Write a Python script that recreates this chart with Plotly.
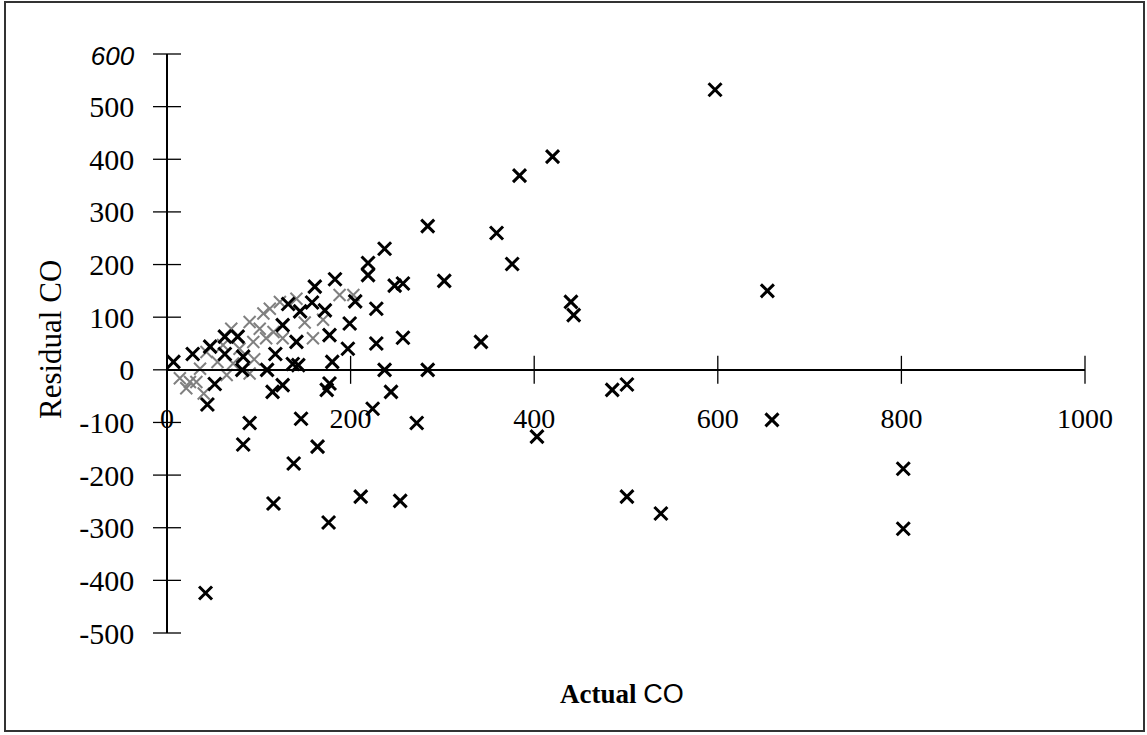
import plotly.graph_objects as go

# ---- data ----
actual_co = [597, 420, 384, 284, 359, 376, 237, 219, 219, 257, 248, 302, 440, 443, 654, 342,
             161, 183, 205, 172, 228, 132, 158, 145, 126, 199, 177, 141, 197, 228, 257, 118,
             77, 63, 47, 28, 7, 63, 83,
             82, 109, 137, 143, 180, 237, 284,
             52, 115, 126, 174, 177, 244, 44, 224,
             90, 146, 272, 83, 164, 138, 116, 176, 211, 254, 42,
             485, 501, 403, 659, 501, 538, 802, 802]
residual_co = [532, 405, 369, 273, 260, 201, 230, 203, 180, 164, 160, 169, 129, 104, 150, 53,
               158, 172, 130, 113, 116, 125, 128, 111, 85, 88, 66, 53, 40, 50, 61, 30,
               63, 63, 44, 30, 15, 30, 25,
               0, 0, 11, 9, 15, 0, 0,
               -27, -42, -29, -38, -26, -42, -66, -74,
               -101, -93, -101, -142, -146, -178, -254, -290, -241, -249, -424,
               -38, -28, -127, -95, -241, -273, -188, -302]

# faint, overlapping points in the dense cluster near the origin
faint_actual = [14, 21, 36, 32, 43, 61, 70, 90, 105, 94, 101, 116, 112, 123, 141, 188, 203,
                90, 65, 25, 72, 108, 79, 159, 126, 150, 170, 95, 55, 40]
faint_residual = [-16, -35, 2, -23, 34, 47, 78, 91, 107, 53, 78, 72, 116, 129, 135, 142, 142,
                  -7, -10, -23, 12, 60, 40, 60, 60, 90, 95, 20, 15, -45]

x_ticks = [0, 200, 400, 600, 800, 1000]
y_ticks = [-500, -400, -300, -200, -100, 0, 100, 200, 300, 400, 500, 600]
y_ticktext = ["-500", "-400", "-300", "-200", "-100", "0", "100", "200", "300", "400", "500",
              "<span style=\"font-family:Liberation Sans;font-style:italic;font-size:26px\">600</span>"]

X_RANGE = [0, 1000]
Y_RANGE = [-500, 600]

W, H = 1147, 735
ML, MR, MT, MB = 167, 62, 54, 102

fig = go.Figure()

fig.add_trace(go.Scatter(
    x=faint_actual, y=faint_residual, mode="markers",
    marker=dict(symbol="x-thin", size=12, color="#808080",
                line=dict(color="#808080", width=2)),
    showlegend=False, hoverinfo="skip"))

fig.add_trace(go.Scatter(
    x=actual_co, y=residual_co, mode="markers",
    marker=dict(symbol="x-thin", size=13, color="black",
                line=dict(color="black", width=3)),
    showlegend=False))

# crossing tick marks on both axes
fig.add_trace(go.Scatter(
    x=x_ticks, y=[0] * len(x_ticks), mode="markers", cliponaxis=False,
    marker=dict(symbol="line-ns", size=20, color="black",
                line=dict(color="black", width=1.3)),
    showlegend=False, hoverinfo="skip"))
fig.add_trace(go.Scatter(
    x=[0] * len(y_ticks), y=y_ticks, mode="markers", cliponaxis=False,
    marker=dict(symbol="line-ew", size=20, color="black",
                line=dict(color="black", width=1.3)),
    showlegend=False, hoverinfo="skip"))

x_pos = (0 - Y_RANGE[0]) / (Y_RANGE[1] - Y_RANGE[0])

fig.update_layout(
    width=W, height=H,
    margin=dict(l=ML, r=MR, t=MT, b=MB),
    paper_bgcolor="white", plot_bgcolor="white",
    showlegend=False,
    xaxis=dict(range=X_RANGE, anchor="free", position=x_pos, showline=True,
               linecolor="black", linewidth=1.5, ticks="outside", ticklen=9,
               tickcolor="rgba(0,0,0,0)", tickvals=x_ticks,
               ticktext=[str(v) for v in x_ticks],
               tickfont=dict(family="Liberation Serif", size=28, color="black"),
               ticklabelstandoff=15, showgrid=False, zeroline=False),
    yaxis=dict(range=Y_RANGE, anchor="free", position=0, showline=True,
               linecolor="black", linewidth=1.5, ticks="outside", ticklen=10,
               tickcolor="rgba(0,0,0,0)", tickvals=y_ticks,
               ticktext=y_ticktext,
               tickfont=dict(family="Liberation Serif", size=30, color="black"),
               ticklabelstandoff=16, showgrid=False, zeroline=False),
)

pw = W - ML - MR
ph = H - MT - MB


def px_x(p):
    return (p - ML) / pw


def px_y(p):
    return (H - MB - p) / ph


fig.add_annotation(text="Residual CO", xref="paper", yref="paper",
                   x=px_x(50), y=px_y(340), xanchor="center", yanchor="middle",
                   textangle=-90, showarrow=False,
                   font=dict(family="Liberation Serif", size=31, color="black"))
fig.add_annotation(text="<b>Actual</b> <span style=\"font-family:Liberation Sans\">CO</span>",
                   xref="paper", yref="paper", x=px_x(622), y=px_y(694),
                   xanchor="center", yanchor="middle", showarrow=False,
                   font=dict(family="Liberation Serif", size=27, color="black"))

fig.add_shape(type="rect", xref="paper", yref="paper",
              x0=px_x(5), x1=px_x(1144), y0=px_y(731), y1=px_y(2),
              line=dict(color="#333333", width=2))

fig.write_html("out.html")
